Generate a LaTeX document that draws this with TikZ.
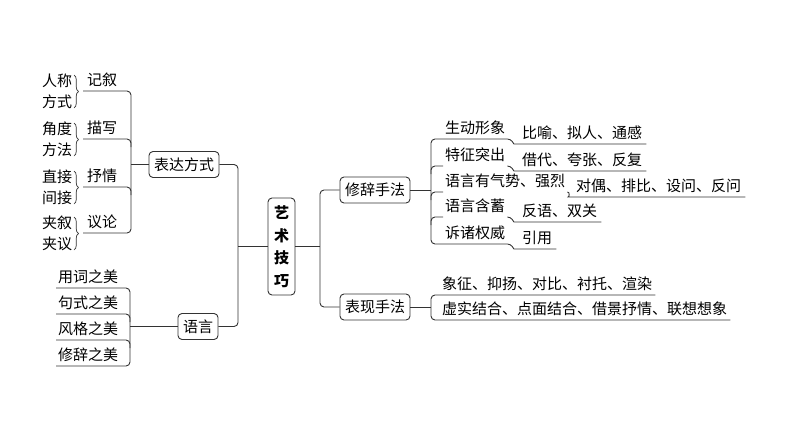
\documentclass[tikz,border=0pt]{standalone}
\usepackage{fontspec}
\setmainfont{Noto Sans CJK SC}
\usetikzlibrary{calc}
\usetikzlibrary{positioning}
\usetikzlibrary{decorations.pathreplacing}

\tikzset{
  conn/.style={draw=black!80, line width=0.9pt, rounded corners=4pt},
  topicbox/.style={draw=black!80, line width=0.9pt, rounded corners=4pt,
    minimum height=26pt, inner sep=0pt, font=\fontsize{15}{17}\selectfont},
  item/.style={anchor=south west, inner xsep=4pt, inner ysep=0pt,
    text height=12pt, text depth=5.5pt, font=\fontsize{15}{17}\selectfont},
  pairlbl/.style={inner sep=0pt, font=\fontsize{15}{17}\selectfont},
  brc/.style={draw=black!80, line width=0.7pt, decorate,
    decoration={brace, amplitude=4.5pt, aspect=0.5}},
}

\begin{document}
\begin{tikzpicture}[x=1pt,y=-1pt]
            \useasboundingbox (0,0) rectangle (794,447);

            \coordinate (lt) at (131,91);
            \coordinate (lb) at (131,233);
            \coordinate (mt) at (130,288);
            \coordinate (mb) at (130,366);
            \coordinate (jl) at (238,246.5);
            \coordinate (jr) at (320,246.5);
            \coordinate (rt) at (431,139);
            \coordinate (rb) at (431,244);

            \foreach \u/\a/\b/\c/\n in {91/人称/方式/记叙/jx, 139/角度/方法/描写/ms,
                187/直接/间接/抒情/sq, 233/夹叙/夹议/议论/yl}{
                \node[item] (\n) at (83,\u) {\c};
                \node[pairlbl] (\n-a) at (57,\u-10) {\a};
                \node[pairlbl] (\n-b) at (57,\u+11) {\b};
                \draw[brc] (74,\u-16) -- (74,\u+17);
            }

            \foreach \u/\t/\n in {288/用词之美/yc, 314/句式之美/js, 340/风格之美/fg, 366/修辞之美/xc}{
                \node[item, inner xsep=2pt] (\n) at (56,\u) {\t};
            }

            \node[topicbox, minimum width=70pt] (bdfs) at (184,164.5) {表达方式};
            \node[topicbox, minimum width=40pt] (yy) at (198,326.5) {语言};
            \node[topicbox, minimum width=27pt, minimum height=97pt, align=center,
                font=\fontsize{15}{22.5}\selectfont\bfseries] (yssq) at (281.5,246.5) {艺\\术\\技\\巧};
            \node[topicbox, minimum width=70pt] (xcsf) at (375,190) {修辞手法};
            \node[topicbox, minimum width=70pt] (bxsf) at (375,307) {表现手法};

            \foreach \u/\m/\s/\x/\n in {139/生动形象/比喻、拟人、通感/518/sd,
                166/特征突出/借代、夸张、反复/518/tz,
                192/语言有气势、强烈/对偶、排比、设问、反问/572/yq,
                217/语言含蓄/反语、双关/518/hy, 244/诉诸权威/引用/518/sz}{
                \node[item, inner xsep=2pt] (\n) at (443,\u) {\m};
                \node[item] (\n-s) at (\x,\u+5) {\s};
                \draw[conn] (\n.south east) to[out=0,in=180] (\n-s.south west) -- (\n-s.south east);
            }

            \node[item, inner xsep=3pt] (xz) at (439,295) {象征、抑扬、对比、衬托、渲染};
            \node[item, inner xsep=3pt] (xs) at (439,320) {虚实结合、点面结合、借景抒情、联想想象};

            % left spines
            \draw[conn] (jx.south west) -- (lt) -- (lb) -- (yl.south west);
            \foreach \n in {ms,sq}{
                \draw[conn] (\n.south west) -- (\n.south west -| lt) -- ($(\n.south west -| lt)+(0,8)$);
            }
            \draw[conn] (bdfs.west) -- (bdfs.west -| lt);

            \draw[conn] (yc.south west) -- (mt) -- (mb) -- (xc.south west);
            \foreach \n in {js,fg}{
                \draw[conn] (\n.south west) -- (\n.south west -| mt) -- ($(\n.south west -| mt)+(0,8)$);
            }
            \draw[conn] (yy.west) -- (yy.west -| mt);

            % centre
            \draw[conn] (bdfs.east) -| (jl) |- (yy.east);
            \draw[conn] (jl) -- (yssq.west);
            \draw[conn] (yssq.east) -- (jr);
            \draw[conn] (xcsf.west) -| (jr) |- (bxsf.west);

            % right spines
            \draw[conn] (sd.south east) -- (rt) -- (rb) -- (sz.south east);
            \foreach \n in {tz,yq,hy}{
                \draw[conn] ($(\n.south west -| rt)+(0,8)$) -- (\n.south west -| rt) -- (\n.south west);
            }
            \draw[conn] (xcsf.east) -- (xcsf.east -| rt);

            \draw[conn] (xz.south east) -- (xz.south west -| rt) -- (xs.south west -| rt) -- (xs.south east);
            \draw[conn] (bxsf.east) -- (bxsf.east -| rt);
        \end{tikzpicture}
\end{document}
